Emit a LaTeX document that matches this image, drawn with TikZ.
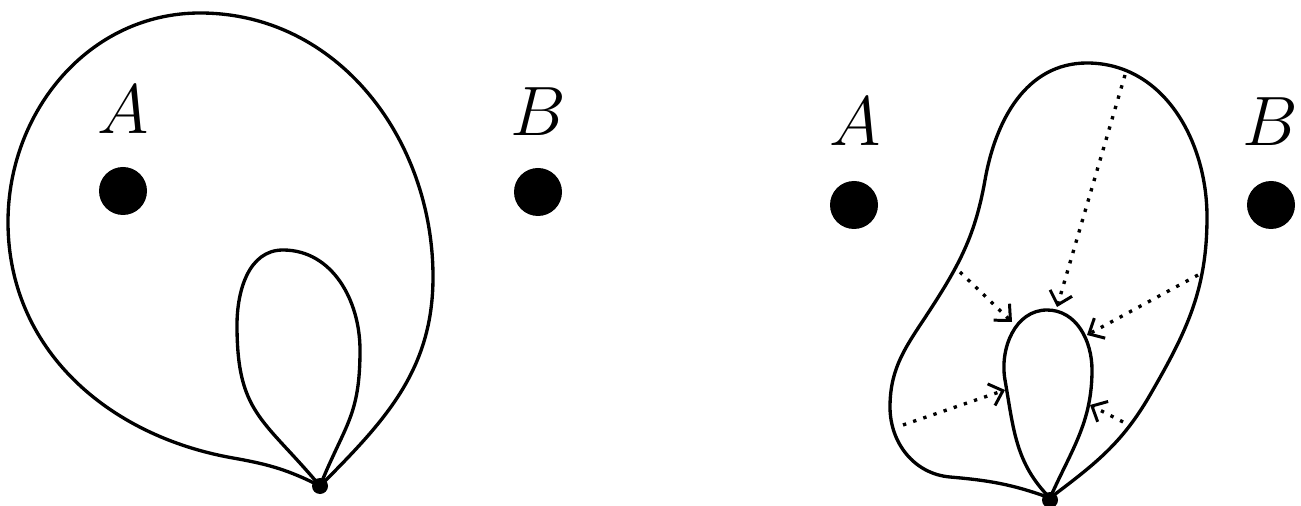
\documentclass[tikz,border=0pt]{standalone}
\usepackage{graphicx}
\usetikzlibrary{arrows.meta}
\newcommand{\biglabel}[1]{\scalebox{1.6}{\Huge$#1$}}
\begin{document}
\begin{tikzpicture}[x=0.02cm,y=0.02cm,
  curve/.style={line width=1.9pt, line join=round},
  pin/.style={circle, fill=black, inner sep=0pt, minimum size=48*0.02cm},
  base/.style={circle, fill=black, inner sep=0pt, minimum size=16*0.02cm},
  lbl/.style={inner sep=0pt},
  flow/.style={line width=1.9pt, dash pattern=on 1.9pt off 4.2pt, -{Straight Barb[length=7pt,width=13pt,line width=1.7pt]}}]
\useasboundingbox (0,0) rectangle (1301,-506);
% ---------- left figure ----------
\node[pin] (A1) at (123,-191) {};
\node[pin] (B1) at (538,-192) {};
\node[lbl] (LA1) at (123,-110) {\biglabel{A}};
\node[lbl] (LB1) at (538,-112) {\biglabel{B}};
\coordinate (P1) at (320,-486);
\draw[curve] (P1) to[out=153,in=-10] (233,-458)
  to[out=170,in=-90] (8,-222)
  to[out=90,in=180] (200,-13)
  to[out=0,in=90] (433,-277)
  to[out=-90,in=45] (P1);
\draw[curve] (P1) to[out=130,in=-90,looseness=1.25] (237,-325)
  to[out=90,in=180] (283,-250)
  to[out=0,in=90] (360,-350)
  to[out=-90,in=68,looseness=1.2] (P1);
\node[base] (D1) at (P1) {};
% ---------- right figure ----------
\node[pin] (A2) at (854,-205) {};
\node[pin] (B2) at (1271,-205) {};
\node[lbl] (LA2) at (855,-122) {\biglabel{A}};
\node[lbl] (LB2) at (1270,-122) {\biglabel{B}};
\coordinate (P2) at (1050,-498);
\draw[curve] (P2) to[out=160,in=-5] (950,-477)
  to[out=175,in=-90] (890,-407)
  to[out=90,in=-123] (930,-310)
  to[out=57,in=-100] (985,-180)
  to[out=80,in=180] (1087,-63)
  to[out=0,in=90] (1207,-217)
  to[out=-90,in=60] (1150,-395)
  to[out=240,in=37] (P2);
\draw[curve] (P2) to[out=135,in=-80] (1005,-380)
  to[out=100,in=180] (1047,-310)
  to[out=0,in=90] (1092,-370)
  to[out=-90,in=66] (P2);
\node[base] (D2) at (1050,-500) {};
\coordinate (s1) at (960,-272); \coordinate (e1) at (1012,-322);
\coordinate (s2) at (1125,-75);  \coordinate (e2) at (1057,-307);
\coordinate (s3) at (1198,-275); \coordinate (e3) at (1087,-335);
\coordinate (s4) at (903,-425);  \coordinate (e4) at (1005,-390);
\coordinate (s5) at (1123,-422); \coordinate (e5) at (1090,-405);
\draw[flow] (s1) -- (e1);
\draw[flow] (s2) -- (e2);
\draw[flow] (s3) -- (e3);
\draw[flow] (s4) -- (e4);
\draw[flow] (s5) -- (e5);
\end{tikzpicture}
\end{document}
